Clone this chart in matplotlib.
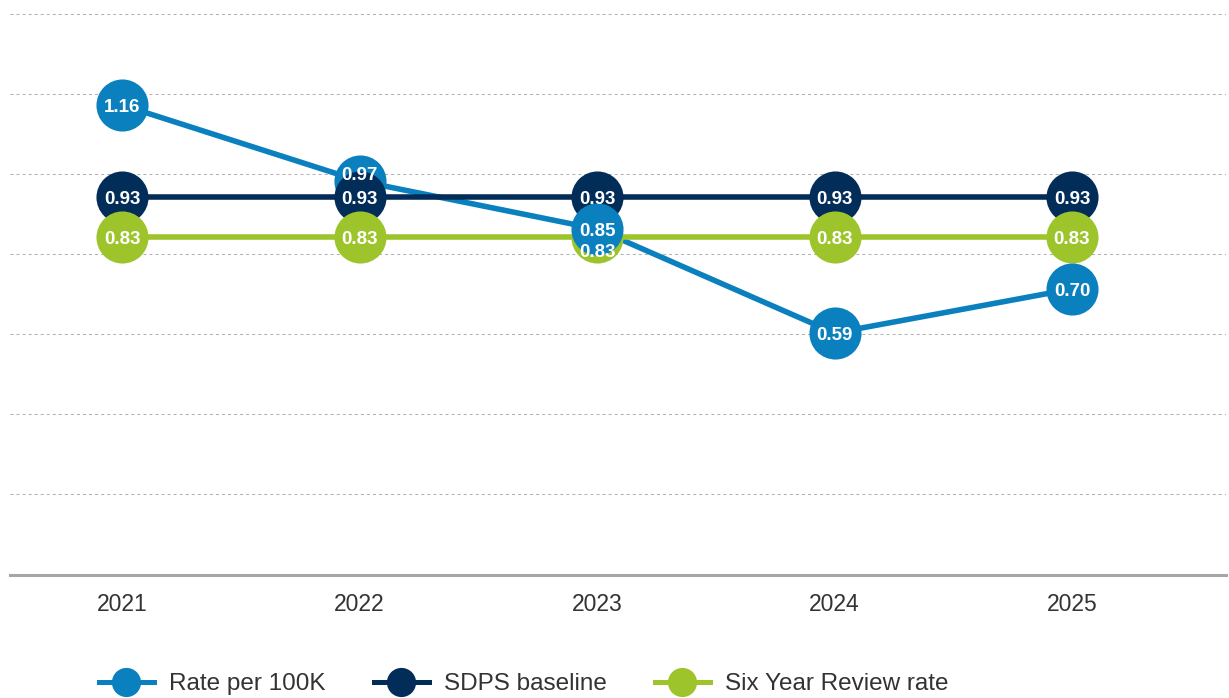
import numpy as np
import matplotlib
matplotlib.use("Agg")
import matplotlib.pyplot as plt
from matplotlib.lines import Line2D

plt.rcParams['font.family'] = ['Liberation Sans', 'DejaVu Sans']

years = [2021, 2022, 2023, 2024, 2025]
rate = [1.16, 0.97, 0.85, 0.59, 0.70]
sdps = [0.93, 0.93, 0.93, 0.93, 0.93]
six_year = [0.83, 0.83, 0.83, 0.83, 0.83]
names = ['Rate per 100K', 'SDPS baseline', 'Six Year Review rate']

c_blue = '#0a80be'
c_navy = '#022d59'
c_green = '#9dc42b'

fig = plt.figure(figsize=(12.29, 6.98), dpi=100)
W, H = 1229, 698
ax = fig.add_axes([10 / W, 1 - 575 / H, 1216 / W, 565 / H])

# px scale: 400 px per unit, 1.16 sits at y=105
ax.set_ylim(1.16 - 470 / 400, 1.16 + 95 / 400)
ax.set_xlim(2021 - 112 / 237.5, 2025 + 154 / 237.5)

series = [
    (rate, c_blue, [6, 3, 6, 6, 6]),
    (sdps, c_navy, [4, 4, 4, 4, 4]),
    (six_year, c_green, [5, 5, 5, 5, 5]),
]

for k, (vals, col, zs) in enumerate(series):
    ax.plot(years, vals, color=col, lw=4.0, solid_capstyle='butt', zorder=2 + k * 0.1)
    for x, v, z in zip(years, vals, zs):
        ax.plot([x], [v], 'o', ms=37.5, color=col, mec='none', zorder=z)

# label nudges where circles collide
nudge = {(0, 1): 0.02, (2, 2): -0.034}
for k, (vals, col, zs) in enumerate(series):
    for i, (x, v) in enumerate(zip(years, vals)):
        ax.text(x, v + nudge.get((k, i), 0), f'{v:.2f}', color='white',
                fontsize=13.5, fontweight='bold', ha='center',
                va='center_baseline', zorder=10)

ax.set_yticks(np.arange(0.1875, 1.39, 0.2))
ax.set_yticklabels([])
ax.grid(axis='y', color='#b3b3b3', lw=0.75, linestyle=(0, (2.9, 2.9)))
ax.tick_params(axis='y', length=0)
ax.set_xticks(years)
ax.set_xticklabels([str(y) for y in years])
ax.tick_params(axis='x', length=0, pad=13, labelsize=16.5, labelcolor='#333333')

for s in ['top', 'right', 'left']:
    ax.spines[s].set_visible(False)
ax.spines['bottom'].set_color('#a6a6a6')
ax.spines['bottom'].set_linewidth(2.2)

handles = [Line2D([0], [0], color=c, lw=3.6, marker='o', ms=21, mec='none')
           for c in (c_blue, c_navy, c_green)]
fig.legend(handles, names, loc='center left', bbox_to_anchor=(99 / W, 1 - 684 / H),
           ncol=3, frameon=False, fontsize=17.5, handlelength=2.25,
           handletextpad=0.62, columnspacing=2.0, borderpad=0, borderaxespad=0,
           labelcolor='#333333')

fig.savefig('out.png', dpi=100)
